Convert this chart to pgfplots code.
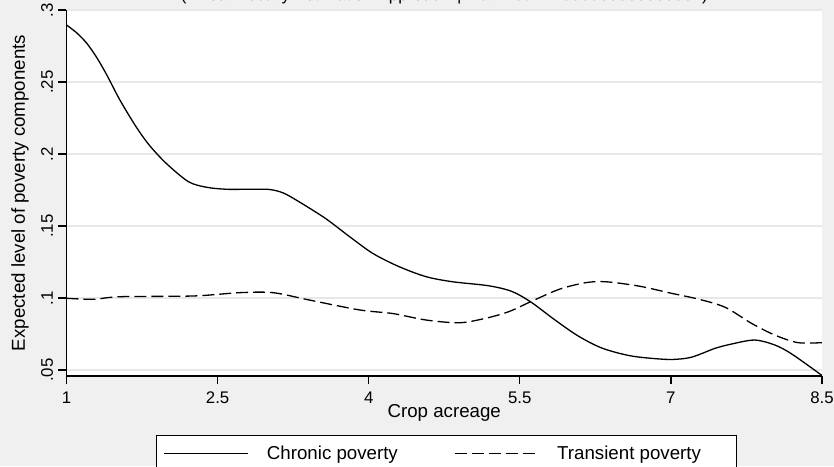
\documentclass[border=0pt]{standalone}
\usepackage{fontspec}
\setmainfont{Liberation Sans}
\usepackage{pgfplots}
\pgfplotsset{compat=1.18}
\definecolor{bggray}{RGB}{240,240,240}
\definecolor{gridgray}{RGB}{232,232,232}
\begin{document}
\begin{tikzpicture}[x=1pt,y=1pt]
\useasboundingbox (0,0) rectangle (834,466);
\fill[bggray] (0,0) rectangle (834,466);
\begin{axis}[
  at={(66.5pt,90pt)}, anchor=south west,
  scale only axis, width=755.5pt, height=366pt,
  xmin=1, xmax=8.5, ymin=0.04583, ymax=0.3,
  axis x line*=bottom, axis y line*=left,
  axis line style={line width=1.2pt, -},
  axis background/.style={fill=white},
  xtick={1,2.5,4,5.5,7,8.5},
  xticklabels={1,2.5,4,5.5,7,8.5},
  ytick={0.05,0.1,0.15,0.2,0.25,0.3},
  yticklabels={.05,.1,.15,.2,.25,.3},
  tick align=outside, major tick length=8pt,
  tick style={black, line width=1.2pt},
  ymajorgrids, major grid style={gridgray, line width=1.5pt},
  /pgf/number format/assume math mode=true,
  ticklabel style={font=\fontsize{16.8}{19}\selectfont},
  yticklabel style={rotate=90, anchor=south, yshift=2pt},
  xticklabel style={anchor=north, yshift=-4pt},
  label style={font=\fontsize{18.7}{22}\selectfont},
  xlabel={Crop acreage},
  ylabel={Expected level of poverty components},
  xlabel style={at={(axis description cs:0.5,-0.101)}, anchor=center},
  ylabel style={at={(axis description cs:-0.0615,0.5)}, anchor=center},
  title={(Linear Locally Estimation Approach \,|\, Banwidth = .333300000000001)},
  title style={at={(axis description cs:0.5,1.0082)}, anchor=base, font=\fontsize{16.8}{19}\selectfont},
  legend columns=2,
  legend style={at={(axis description cs:0.1185,-0.1612)}, anchor=north west,
    draw=black, line width=1.2pt, fill=white,
    inner xsep=7pt, inner ysep=10.5pt,
    font=\fontsize{18.7}{22}\selectfont,
    nodes={inner sep=0pt, anchor=west},
    /tikz/every odd column/.append style={column sep=18pt},
    /tikz/every even column/.append style={column sep=47pt}},
  legend image code/.code={\draw[#1, line width=1.3pt] (0pt,0pt) -- (84pt,0pt);},
]
\addplot[black, line width=1.3pt, smooth, tension=0.5] coordinates {
(1.00,0.2896) (1.10,0.2842) (1.20,0.2770) (1.30,0.2670) (1.40,0.2549) (1.53,0.2375)
(1.69,0.2190) (1.82,0.2063) (1.99,0.1935) (2.21,0.1808) (2.39,0.1769)
(2.59,0.1755) (2.80,0.1755) (3.01,0.1754) (3.15,0.1730) (3.30,0.1672) (3.57,0.1553) (3.81,0.1426)
(4.04,0.1310) (4.30,0.1218) (4.57,0.1148) (4.83,0.1113) (5.19,0.1085)
(5.42,0.1046) (5.61,0.0972) (5.85,0.0847) (6.08,0.0736) (6.32,0.0651)
(6.61,0.0597) (6.94,0.0574) (7.10,0.0577) (7.21,0.0590) (7.32,0.0618) (7.44,0.0651) (7.60,0.0680)
(7.83,0.0708) (8.03,0.0674) (8.20,0.0611) (8.50,0.0462)
};
\addlegendentry{\makebox[140pt][l]{Chronic poverty}}
\addplot[black, line width=1.3pt, smooth, tension=0.5, dash pattern=on 12pt off 5pt] coordinates {
(1.00,0.0998) (1.27,0.0991) (1.53,0.1009) (2.26,0.1014) (2.72,0.1037)
(3.05,0.1037) (3.41,0.0986) (3.91,0.0917) (4.24,0.0892) (4.57,0.0847)
(4.90,0.0828) (5.16,0.0859) (5.39,0.0905) (5.61,0.0975) (5.89,0.1060)
(6.15,0.1106) (6.35,0.1113) (6.68,0.1083) (7.01,0.1032) (7.28,0.0991)
(7.54,0.0935) (7.80,0.0824) (8.03,0.0743) (8.26,0.0690) (8.50,0.0690)
};
\addlegendentry{\makebox[172pt][l]{Transient poverty}}
\end{axis}
\end{tikzpicture}
\end{document}
